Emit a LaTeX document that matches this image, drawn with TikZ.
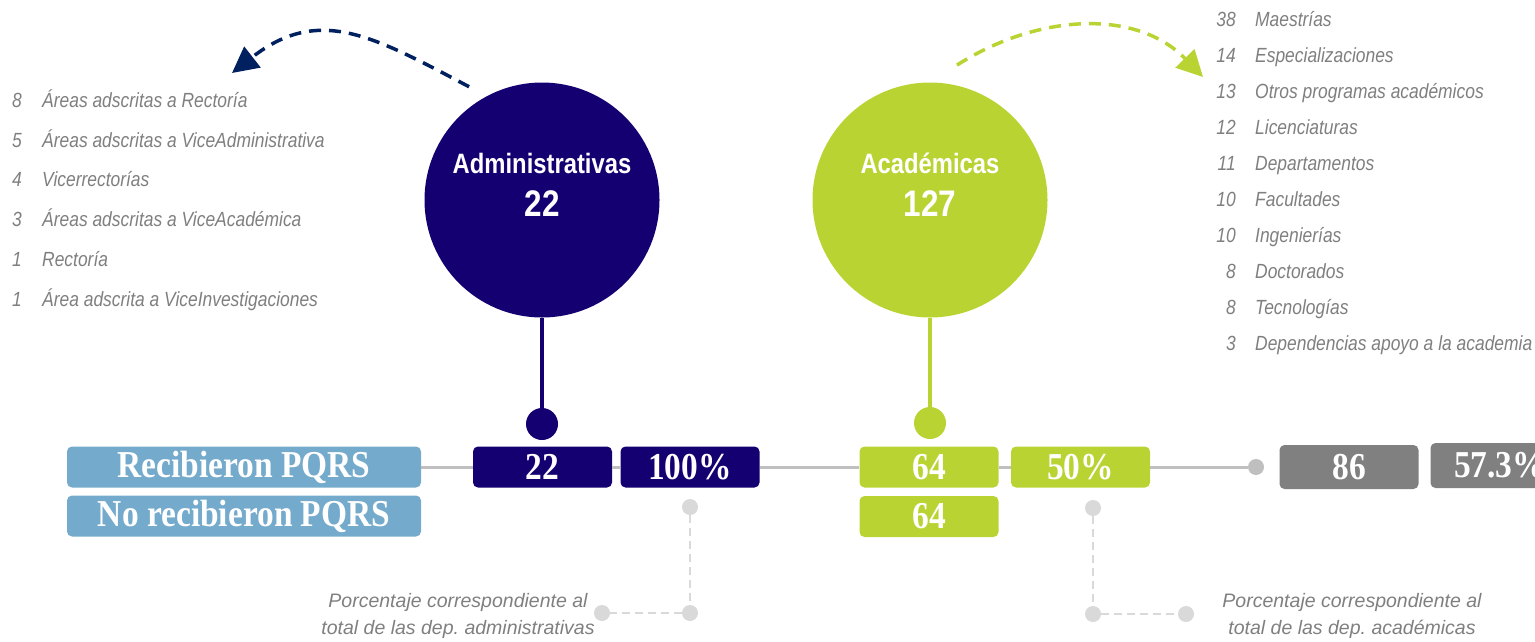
\documentclass[tikz,border=0pt]{standalone}
\usepackage{fontspec}
\setsansfont{Liberation Sans}
\newfontfamily\narrowsans[FakeStretch=0.85]{Liberation Sans}
\newfontfamily\boxserif[FakeStretch=0.88]{Liberation Serif}
\usetikzlibrary{arrows.meta}
\frenchspacing

\definecolor{admblue}{HTML}{140070}
\definecolor{acagreen}{HTML}{B9D432}
\definecolor{arrownavy}{HTML}{002060}
\definecolor{pqrsblue}{HTML}{74AACB}
\definecolor{linegray}{HTML}{BFBFBF}
\definecolor{boxgray}{HTML}{808080}
\definecolor{dotgray}{HTML}{D9D9D9}
\definecolor{textgray}{HTML}{7F7F7F}

\tikzset{
    numbox/.style={rounded corners=5pt, minimum width=139pt, minimum height=41pt, inner sep=0pt,
        text=white, font=\boxserif\bfseries\fontsize{38}{38}\selectfont}, % boxes of the bottom row
    pqrsbox/.style={numbox, fill=pqrsblue, minimum width=354pt},
    bigcircle/.style={circle, minimum size=235pt, inner sep=0pt},
    stemdot/.style={circle, minimum size=32pt, inner sep=0pt},
    greydot/.style={circle, fill=dotgray, minimum size=16pt, inner sep=0pt},
    circletitle/.style={anchor=base, text=white, font=\narrowsans\bfseries\fontsize{28}{30}\selectfont},
    circlecount/.style={anchor=base, text=white, font=\narrowsans\bfseries\fontsize{37}{40}\selectfont},
    listitem/.style={anchor=base west, inner sep=0pt, text=textgray, font=\narrowsans\itshape\fontsize{20.5}{24}\selectfont},
    listnum/.style={listitem, anchor=base east},
    note/.style={align=center, text=textgray, inner sep=0pt, font=\sffamily\itshape\fontsize{19.5}{27}\selectfont},
    curvy/.style={line width=3.5pt, dash pattern=on 12pt off 8pt, -{Triangle[length=26pt,width=26pt]}},
    dashlink/.style={dotgray, line width=2.5pt, dash pattern=on 8pt off 5pt},
}

\begin{document}
\begin{tikzpicture}[x=1pt, y=-1pt]
    \useasboundingbox (0,0) rectangle (1535,641);
    \clip (0,0) rectangle (1535,641);

    % the two groups
    \node[bigcircle, fill=admblue] (admin) at (542,200) {};
    \node[circletitle] (admtitle) at (542,173) {Administrativas};
    \node[circlecount] (admcount) at (542,216) {22};
    \node[bigcircle, fill=acagreen] (acad) at (930,200) {};
    \node[circletitle] (acatitle) at (930,173) {Académicas};
    \node[circlecount] (acacount) at (930,216) {127};

    % left list
    \foreach \num/\txt [count=\i] in {8/Áreas adscritas a Rectoría, 5/Áreas adscritas a ViceAdministrativa,
        4/Vicerrectorías, 3/Áreas adscritas a ViceAcadémica, 1/Rectoría, 1/Área adscrita a ViceInvestigaciones}{
        \node[listitem] (admn\i) at (12,67.5+39.8*\i) {\num};
        \node[listitem] (adml\i) at (42,67.5+39.8*\i) {\txt};
    }
    % right list
    \foreach \num/\txt [count=\i] in {38/Maestrías, 14/Especializaciones, 13/Otros programas académicos,
        12/Licenciaturas, 11/Departamentos, 10/Facultades, 10/Ingenierías, 8/Doctorados,
        8/Tecnologías, 3/Dependencias apoyo a la academia}{
        \node[listnum] (acan\i) at (1236,-9.7+36*\i) {\num};
        \node[listitem] (acal\i) at (1255,-9.7+36*\i) {\txt};
    }

    % curved arrows to the lists
    \coordinate (admtip) at (232,73);
    \coordinate (acatip) at (1203,77);
    \draw[curvy, arrownavy, shorten <=20pt] (admin.118) .. controls (373,36) and (319,5) .. (admtip);
    \draw[curvy, acagreen, shorten <=32pt] (acad.north) .. controls (1037,14) and (1136,8) .. (acatip);

    % stems
    \node[stemdot, fill=admblue] (admdot) at (542,424) {};
    \node[stemdot, fill=acagreen] (acadot) at (930,423) {};
    \draw[admblue, line width=4pt] (admin.south) -- (admdot.north);
    \draw[acagreen, line width=4pt] (acad.south) -- (acadot.north);

    % bottom row
    \node[pqrsbox] (recib) at (244,467) {Recibieron PQRS};
    \node[pqrsbox] (norecib) at (244,516) {No recibieron PQRS};
    \node[numbox, fill=admblue] (adm22) at (542.5,467) {22};
    \node[numbox, fill=admblue] (adm100) at (690,467) {100\%};
    \node[numbox, fill=acagreen] (aca64) at (929,467) {64};
    \node[numbox, fill=acagreen] (aca50) at (1080.5,467) {50\%};
    \node[numbox, fill=acagreen] (aca64b) at (929,516.5) {64};
    \node[greydot, fill=linegray] (totdot) at (1256,467) {};
    \node[numbox, fill=boxgray, minimum height=44pt] (tot86) at (1349,467) {86};
    \node[numbox, fill=boxgray, minimum height=45pt] (tot573) at (1500,465.5) {57.3\%};
    \draw[linegray, line width=3pt] (recib.east) -- (adm22.west) (adm22.east) -- (adm100.west)
        (adm100.east) -- (aca64.west) (aca64.east) -- (aca50.west) (aca50.east) -- (totdot.west);

    % notes on the percentages
    \node[greydot] (admp1) at (690,507) {};
    \node[greydot] (admp2) at (690,613) {};
    \node[greydot] (admp3) at (602,613) {};
    \draw[dashlink] (admp1) -- (admp2) -- (admp3);
    \node[note] (admnote) at (458,616) {Porcentaje correspondiente al\\total de las dep. administrativas};
    \node[greydot] (acap1) at (1093,508) {};
    \node[greydot] (acap2) at (1093,614) {};
    \node[greydot] (acap3) at (1186,614) {};
    \draw[dashlink] (acap1) -- (acap2) -- (acap3);
    \node[note] (acanote) at (1352,616) {Porcentaje correspondiente al\\total de las dep. académicas};
\end{tikzpicture}
\end{document}
